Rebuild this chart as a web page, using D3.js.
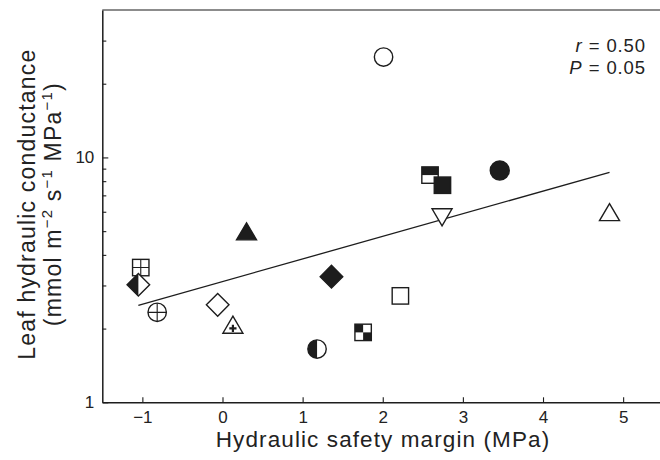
<!DOCTYPE html>
<html>
<head>
<meta charset="utf-8">
<script src="https://cdn.jsdelivr.net/npm/d3@7"></script>
<style>
  html, body { margin: 0; padding: 0; background: #fff; }
  svg { display: block; font-family: "Liberation Sans", Arial, Helvetica, sans-serif; }
</style>
</head>
<body>
<svg id="chart" width="660" height="460"></svg>
<script>
// ---- data ----
const safetyMargin = [2.01, 3.46, 2.74, 1.36, 2.22, 1.755, 2.59, 2.745, 4.83, 0.30, -1.02, -1.05, -0.815, -0.06, 0.13, 1.18];
const conductance  = [25.7, 8.84, 5.85, 3.26, 2.72, 1.93, 8.47, 7.70, 5.82, 4.86, 3.55, 3.02, 2.33, 2.50, 2.02, 1.65];
const symbolKind   = ["circleOpen", "circleFilled", "triDownOpen", "diamondFilled", "squareOpen", "squareChecker",
                      "squareHalfTop", "squareFilled", "triUpOpen", "triUpFilled", "squareGrid", "diamondHalfLeft",
                      "circlePlus", "diamondOpen", "triUpPlus", "circleHalfLeft"];
const fitX = [-1.05, 4.83];
const fitY = [2.49, 8.69];
const xTicks = [-1, 0, 1, 2, 3, 4, 5];
const yMajorTicks = [1, 10];
const yMinorTicks = [2, 3, 4, 5, 6, 7, 8, 9, 20, 30];
const statLines = [["r", " = 0.50"], ["P", " = 0.05"]];

// ---- scales ----
const svg = d3.select("#chart");
const x = d3.scaleLinear().domain([-1.5, 5.46]).range([102.3, 660]);
const y = d3.scaleLog().domain([1, 40]).range([402.3, 10]);
const INK = "#1d1d1d";
const TXT = "#222";
const FS_TICK = 17;

// ---- frame ----
svg.append("line")
  .attr("x1", x.range()[0]).attr("x2", 660)
  .attr("y1", y(40)).attr("y2", y(40))
  .attr("stroke", "#666").attr("stroke-width", 1.6);

// x axis
const gx = svg.append("g").attr("transform", `translate(0,${y(1)})`)
  .call(d3.axisBottom(x).tickValues(xTicks).tickSizeInner(-5).tickSizeOuter(0).tickPadding(9)
    .tickFormat(d => d < 0 ? "\u2212" + Math.abs(d) : String(d)));
gx.select(".domain").attr("stroke", INK).attr("stroke-width", 1.5);
gx.selectAll(".tick line").attr("stroke", INK).attr("stroke-width", 1.1);
gx.selectAll(".tick text").attr("font-size", FS_TICK).attr("fill", TXT)
  .attr("font-family", '"Liberation Sans", Arial, sans-serif');

// y axis major
const gy = svg.append("g").attr("transform", `translate(${x.range()[0]},0)`)
  .call(d3.axisLeft(y).tickValues(yMajorTicks).tickSizeInner(-6).tickSizeOuter(0).tickPadding(8)
    .tickFormat(d3.format("d")));
gy.select(".domain").attr("stroke", INK).attr("stroke-width", 1.5);
gy.selectAll(".tick line").attr("stroke", INK).attr("stroke-width", 1.1);
gy.selectAll(".tick text").attr("font-size", FS_TICK).attr("fill", TXT)
  .attr("font-family", '"Liberation Sans", Arial, sans-serif');

// y axis minor
const gym = svg.append("g").attr("transform", `translate(${x.range()[0]},0)`)
  .call(d3.axisLeft(y).tickValues(yMinorTicks).tickSizeInner(-4).tickSizeOuter(0).tickFormat(""));
gym.select(".domain").remove();
gym.selectAll(".tick line").attr("stroke", INK).attr("stroke-width", 1.1);

// ---- axis titles ----
svg.append("text")
  .attr("x", 383).attr("y", 447)
  .attr("text-anchor", "middle").attr("font-size", 22.5).attr("letter-spacing", 1.1)
  .attr("fill", TXT)
  .text("Hydraulic safety margin (MPa)");

const yt = svg.append("g").attr("transform", `translate(0,${(y(1) + y(40)) / 2 - 2})`);
yt.append("text")
  .attr("transform", "translate(35,0) rotate(-90)")
  .attr("text-anchor", "middle").attr("font-size", 23).attr("letter-spacing", 1.2)
  .attr("fill", TXT)
  .text("Leaf hydraulic conductance");
const l2 = yt.append("text")
  .attr("transform", "translate(61,0) rotate(-90)")
  .attr("text-anchor", "middle").attr("font-size", 23).attr("letter-spacing", 1.2)
  .attr("fill", TXT);
const parts = [["(mmol m", false], ["\u22122", true], [" s", false], ["\u22121", true], [" MPa", false], ["\u22121", true], [")", false]];
let prevSup = false;
parts.forEach(([t, sup]) => {
  const ts = l2.append("tspan").text(t);
  if (sup) { ts.attr("font-size", 15).attr("dy", prevSup ? 0 : -9); }
  else { ts.attr("dy", prevSup ? 9 : 0); }
  prevSup = sup;
});

// ---- stats annotation ----
statLines.forEach((s, i) => {
  const t = svg.append("text")
    .attr("x", 646).attr("y", 52 + i * 22)
    .attr("text-anchor", "end").attr("font-size", 18.5).attr("letter-spacing", 0.9).attr("fill", TXT);
  t.append("tspan").attr("font-style", "italic").text(s[0]);
  t.append("tspan").text(s[1]);
});

// ---- regression line ----
svg.append("path")
  .datum(fitX.map((d, i) => [d, fitY[i]]))
  .attr("d", d3.line().x(d => x(d[0])).y(d => y(d[1])))
  .attr("fill", "none").attr("stroke", INK).attr("stroke-width", 1.3);

// ---- markers ----
const SW = 1.4;
const R = 9.2, S = 8.2, D = 11.3, TW = 10, TH = 17;
function tri(up) {
  const a = up ? -2 * TH / 3 : 2 * TH / 3, b = up ? TH / 3 : -TH / 3;
  return `M0,${a}L${TW},${b}L${-TW},${b}Z`;
}
function drawMarker(g, kind) {
  const outline = (sel, fill) => sel.attr("fill", fill).attr("stroke", INK).attr("stroke-width", SW);
  switch (kind) {
    case "circleOpen": outline(g.append("circle").attr("r", R), "#fff"); break;
    case "circleFilled": outline(g.append("circle").attr("r", R + 0.3), INK); break;
    case "circleHalfLeft":
      g.append("circle").attr("r", R).attr("fill", "#fff");
      g.append("path").attr("d", `M0,${-R}A${R},${R} 0 0 0 0,${R}Z`).attr("fill", INK);
      outline(g.append("circle").attr("r", R), "none"); break;
    case "circlePlus":
      outline(g.append("circle").attr("r", R), "#fff");
      g.append("path").attr("d", `M${-R},0H${R}M0,${-R}V${R}`).attr("stroke", INK).attr("stroke-width", 1.1); break;
    case "squareOpen": outline(g.append("rect").attr("x", -S).attr("y", -S).attr("width", 2 * S).attr("height", 2 * S), "#fff"); break;
    case "squareFilled": outline(g.append("rect").attr("x", -S).attr("y", -S).attr("width", 2 * S).attr("height", 2 * S), INK); break;
    case "squareChecker":
      g.append("rect").attr("x", -S).attr("y", -S).attr("width", 2 * S).attr("height", 2 * S).attr("fill", "#fff");
      g.append("rect").attr("x", -S).attr("y", -S).attr("width", S).attr("height", S).attr("fill", INK);
      g.append("rect").attr("x", 0).attr("y", 0).attr("width", S).attr("height", S).attr("fill", INK);
      outline(g.append("rect").attr("x", -S).attr("y", -S).attr("width", 2 * S).attr("height", 2 * S), "none"); break;
    case "squareHalfTop":
      g.append("rect").attr("x", -S).attr("y", -S).attr("width", 2 * S).attr("height", 2 * S).attr("fill", "#fff");
      g.append("rect").attr("x", -S).attr("y", -S).attr("width", 2 * S).attr("height", S).attr("fill", INK);
      outline(g.append("rect").attr("x", -S).attr("y", -S).attr("width", 2 * S).attr("height", 2 * S), "none"); break;
    case "squareGrid":
      outline(g.append("rect").attr("x", -S).attr("y", -S).attr("width", 2 * S).attr("height", 2 * S), "#fff");
      g.append("path").attr("d", `M${-S},0H${S}M0,${-S}V${S}`).attr("stroke", INK).attr("stroke-width", 1.1); break;
    case "diamondFilled": outline(g.append("path").attr("d", `M0,${-D}L${D},0L0,${D}L${-D},0Z`), INK); break;
    case "diamondOpen": outline(g.append("path").attr("d", `M0,${-D}L${D},0L0,${D}L${-D},0Z`), "#fff"); break;
    case "diamondHalfLeft":
      g.append("path").attr("d", `M0,${-D}L${D},0L0,${D}L${-D},0Z`).attr("fill", "#fff");
      g.append("path").attr("d", `M0,${-D}L${-D},0L0,${D}Z`).attr("fill", INK);
      outline(g.append("path").attr("d", `M0,${-D}L${D},0L0,${D}L${-D},0Z`), "none"); break;
    case "triUpOpen": outline(g.append("path").attr("d", tri(true)), "#fff"); break;
    case "triUpFilled": outline(g.append("path").attr("d", tri(true)), INK); break;
    case "triDownOpen": outline(g.append("path").attr("d", tri(false)), "#fff"); break;
    case "triUpPlus":
      outline(g.append("path").attr("d", tri(true)), "#fff");
      g.append("path").attr("d", "M-3.6,0.8H3.6M0,-2.8V4.4").attr("stroke", INK).attr("stroke-width", 2.2); break;
  }
}
const pts = safetyMargin.map((d, i) => ({ x: d, y: conductance[i], kind: symbolKind[i] }));
svg.append("g").selectAll("g.pt").data(pts).join("g")
  .attr("class", "pt")
  .attr("transform", d => `translate(${x(d.x)},${y(d.y)})`)
  .each(function (d) { drawMarker(d3.select(this), d.kind); });
</script>
</body>
</html>
